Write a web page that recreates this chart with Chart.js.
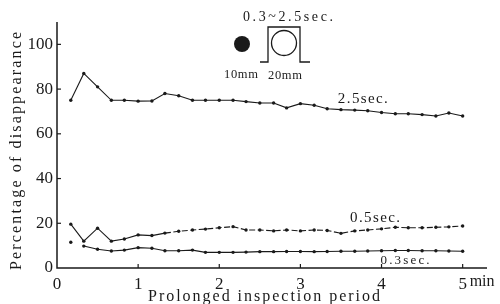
<!DOCTYPE html>
<html>
<head>
<meta charset="utf-8">
<script src="https://cdn.jsdelivr.net/npm/chart.js@4/dist/chart.umd.min.js"></script>
<style>
html,body{margin:0;padding:0;background:#fff;}
#wrap{width:500px;height:304px;}
</style>
</head>
<body>
<div id="wrap"><canvas id="c" width="500" height="304"></canvas></div>
<script>
// ---- data ----
const minutes = [0.17,0.33,0.5,0.67,0.83,1,1.17,1.33,1.5,1.67,1.83,2,2.17,2.33,2.5,2.67,2.83,3,3.17,3.33,3.5,3.67,3.83,4,4.17,4.33,4.5,4.67,4.83,5];
const s25 = [75,87,81,75,75,74.6,74.7,78,77,75,75,75,75,74.4,73.8,73.8,71.6,73.5,72.8,71.2,70.8,70.6,70.3,69.5,69,69,68.6,68,69.3,68];
const s05 = [19.6,12,17.8,12,13,14.8,14.5,15.6,16.4,17,17.4,18,18.5,17,17,16.6,17,16.6,17,16.8,15.5,16.6,17,17.5,18.2,18,18,18.2,18.4,18.8];
const s03 = [11.5,9.8,8.4,7.6,8,9.1,8.8,7.7,7.7,8,7,7,7,7.1,7.3,7.3,7.4,7.4,7.3,7.4,7.5,7.5,7.6,7.7,7.8,7.8,7.7,7.7,7.6,7.5];
const xTicks = [0,1,2,3,4,5];
const yTicks = [0,20,40,60,80,100];
const seriesNames = ["2.5sec.","0.5sec.","0.3sec."];
const yTitle = "Percentage of disappearance";
const xTitle = "Prolonged inspection period";
const insetTitle = "0.3~2.5sec.";
const insetLabels = ["10mm","20mm"];

const SERIF = "'Liberation Serif','DejaVu Serif',serif";
const INK = '#1a1a1a';

function pts(arr){ return minutes.map((m,i)=>({x:m,y:arr[i]})); }

function spacedText(ctx, txt, x, y, targetW){
  const w = ctx.measureText(txt).width;
  const n = txt.length;
  const sp = n>1 ? (targetW - w)/(n-1) : 0;
  if ('letterSpacing' in ctx) {
    ctx.letterSpacing = sp + 'px';
    ctx.textAlign='left';
    ctx.fillText(txt, x - targetW/2, y);
    ctx.letterSpacing = '0px';
  } else {
    ctx.save();
    ctx.translate(x, y);
    ctx.scale(targetW/w, 1);
    ctx.textAlign='center';
    ctx.fillText(txt, 0, 0);
    ctx.restore();
  }
}

const annot = {
  id:'annot',
  afterDraw(chart){
    const {ctx, scales:{x,y}, chartArea:ca} = chart;
    ctx.save();
    ctx.strokeStyle = INK; ctx.fillStyle = INK;
    // axis lines
    ctx.lineWidth = 1.5;
    ctx.beginPath();
    ctx.moveTo(ca.left, ca.top); ctx.lineTo(ca.left, ca.bottom);
    ctx.lineTo(ca.right, ca.bottom);
    ctx.stroke();
    // inward ticks
    ctx.lineWidth = 1.2;
    yTicks.forEach(v=>{ if(!v) return; const py=y.getPixelForValue(v); ctx.beginPath(); ctx.moveTo(ca.left,py); ctx.lineTo(ca.left+4,py); ctx.stroke(); });
    xTicks.forEach(v=>{ if(!v) return; const px=x.getPixelForValue(v); ctx.beginPath(); ctx.moveTo(px,ca.bottom); ctx.lineTo(px,ca.bottom-4); ctx.stroke(); });
    // "min"
    ctx.font = '16px ' + SERIF;
    ctx.textBaseline = 'middle'; ctx.textAlign='left';
    ctx.fillText('min', x.getPixelForValue(5)+7, 282);
    // axis titles
    ctx.font = '16px ' + SERIF;
    ctx.textBaseline = 'middle';
    spacedText(ctx, xTitle, 264, 297, 232);
    ctx.save();
    ctx.translate(17, 151);
    ctx.rotate(-Math.PI/2);
    spacedText(ctx, yTitle, 0, 0, 238);
    ctx.restore();
    // series labels
    ctx.font = '15px ' + SERIF;
    spacedText(ctx, seriesNames[0], x.getPixelForValue(3.77), y.getPixelForValue(75.6), 50);
    spacedText(ctx, seriesNames[1], x.getPixelForValue(3.92), y.getPixelForValue(22.4), 50);
    ctx.font = '13px ' + SERIF;
    spacedText(ctx, seriesNames[2], x.getPixelForValue(4.29), y.getPixelForValue(3.3), 49);
    // inset figure
    ctx.font = '14px ' + SERIF;
    spacedText(ctx, insetTitle, 288, 17, 90);
    ctx.font = '12.5px ' + SERIF;
    spacedText(ctx, insetLabels[0], 241, 75, 34);
    spacedText(ctx, insetLabels[1], 285, 76, 34);
    // black dot
    ctx.beginPath(); ctx.arc(242, 44, 8, 0, Math.PI*2); ctx.fill();
    // bracket with circle
    ctx.lineWidth = 1.3;
    ctx.beginPath();
    ctx.moveTo(260, 62); ctx.lineTo(268, 62); ctx.lineTo(268, 27); ctx.lineTo(300, 27); ctx.lineTo(300, 62); ctx.lineTo(310, 62);
    ctx.stroke();
    ctx.beginPath(); ctx.arc(284, 43, 12.5, 0, Math.PI*2); ctx.stroke();
    ctx.restore();
  }
};

const lineStyle = {
  borderColor: INK, backgroundColor: INK, borderWidth: 1.1,
  pointRadius: 1.7, pointHoverRadius: 1.7, pointBorderWidth: 0,
  pointBackgroundColor: INK, tension: 0, fill: false
};

new Chart(document.getElementById('c'), {
  type: 'line',
  data: {
    datasets: [
      Object.assign({label: seriesNames[0], data: pts(s25)}, lineStyle),
      Object.assign({label: seriesNames[1], data: pts(s05),
        segment: { borderDash: c => c.p0DataIndex >= 7 ? [6,2.5] : undefined }}, lineStyle),
      Object.assign({label: seriesNames[2], data: pts(s03),
        segment: { borderColor: c => c.p0DataIndex === 0 ? 'rgba(0,0,0,0)' : undefined }}, lineStyle)
    ]
  },
  options: {
    responsive: false, animation: false,
    layout: { padding: { left: 0, right: 13, top: 22, bottom: 0 } },
    plugins: { legend: {display:false}, tooltip: {enabled:false} },
    scales: {
      x: {
        type: 'linear', min: 0, max: 5.3,
        afterBuildTicks: s => { s.ticks = xTicks.map(v=>({value:v})); },
        afterFit: s => { s.height = 36; },
        grid: { display:false, drawTicks:false }, border: {display:false},
        ticks: { padding: 6, color: INK, font: { family: SERIF, size: 17 }, maxRotation: 0, autoSkip: false, callback: v => String(v) }
      },
      y: {
        type: 'linear', min: 0, max: 110,
        afterBuildTicks: s => { s.ticks = yTicks.map(v=>({value:v})); },
        afterFit: s => { s.width = 57; },
        grid: { display:false, drawTicks:false }, border: {display:false},
        ticks: { padding: 4, color: INK, font: { family: SERIF, size: 17 }, callback: v => String(v) }
      }
    }
  },
  plugins: [annot]
});
</script>
</body>
</html>
